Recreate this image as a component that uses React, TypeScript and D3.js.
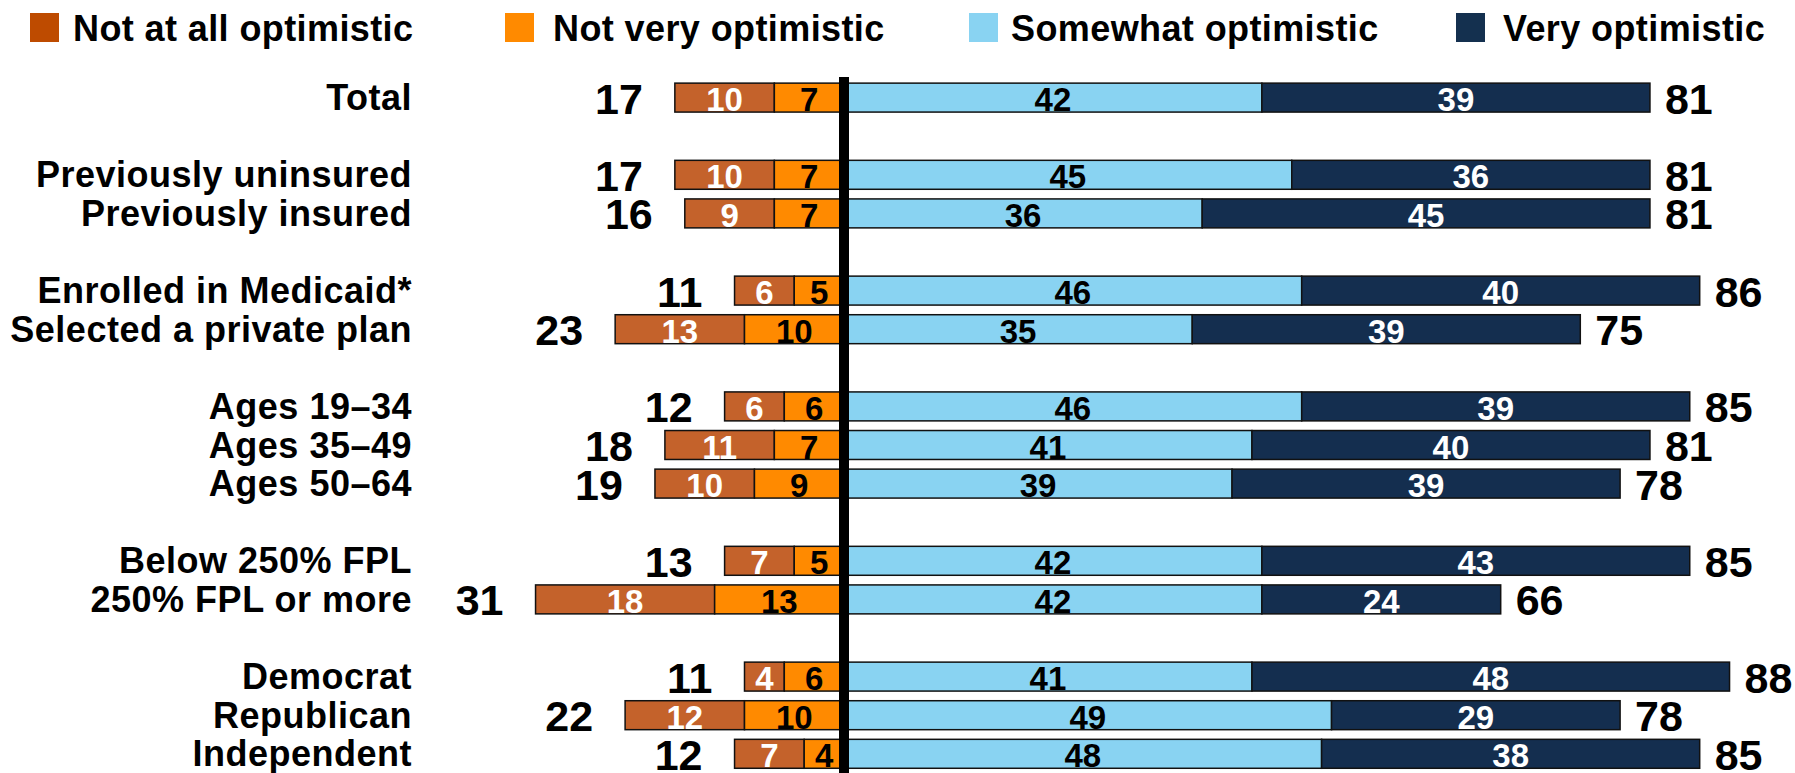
import React from "react";
import * as d3 from "d3";

const categories = [
  "Total",
  "Previously uninsured",
  "Previously insured",
  "Enrolled in Medicaid*",
  "Selected a private plan",
  "Ages 19–34",
  "Ages 35–49",
  "Ages 50–64",
  "Below 250% FPL",
  "250% FPL or more",
  "Democrat",
  "Republican",
  "Independent",
];
const groupOf = [0, 1, 1, 2, 2, 3, 3, 3, 4, 4, 5, 5, 5];
const notAtAll = [10, 10, 9, 6, 13, 6, 11, 10, 7, 18, 4, 12, 7];
const notVery = [7, 7, 7, 5, 10, 6, 7, 9, 5, 13, 6, 10, 4];
const somewhat = [42, 45, 36, 46, 35, 46, 41, 39, 42, 42, 41, 49, 48];
const very = [39, 36, 45, 40, 39, 39, 40, 39, 43, 24, 48, 29, 38];
const negTotal = [17, 17, 16, 11, 23, 12, 18, 19, 13, 31, 11, 22, 12];
const posTotal = [81, 81, 81, 86, 75, 85, 81, 78, 85, 66, 88, 78, 85];

const seriesNames = ["Not at all optimistic", "Not very optimistic", "Somewhat optimistic", "Very optimistic"];
const barColors = ["#C4622B", "#FF8A00", "#89D3F2", "#142E4F"];
const legendColors = ["#BE4B00", "#FF8A00", "#89D3F2", "#14304F"];
const labelColors = ["#FFFFFF", "#000000", "#000000", "#FFFFFF"];

const W = 1795;
const H = 773;
const FONT = "'Liberation Sans', Arial, Helvetica, sans-serif";

export default function App() {
  // row slots including blank rows between groups
  const slots: number[] = [];
  let slot = 0;
  categories.forEach((_, i) => {
    if (i > 0 && groupOf[i] !== groupOf[i - 1]) slot += 1;
    slots.push(slot);
    slot += 1;
  });
  const nSlots = slot;

  const x = d3.scaleLinear().domain([-31, 89]).range([535.55, 1729.55]);
  const y = d3
    .scaleBand<number>()
    .domain(d3.range(nSlots))
    .range([78.3, 78.3 + nSlots * 38.6])
    .paddingInner(0.25)
    .paddingOuter(0.125);
  const bh = y.bandwidth();

  const legendSquareX = [30, 505, 969, 1456];
  const legendTextX = [73, 553, 1011, 1503];

  return (
    <div style={{ position: "absolute", left: 0, top: 0 }}>
      <svg width={W} height={H} style={{ display: "block", background: "#fff" }}>
        {/* legend */}
        {seriesNames.map((n, k) => (
          <g key={n}>
            <rect x={legendSquareX[k]} y={13} width={29} height={29} fill={legendColors[k]} />
            <text
              x={legendTextX[k]}
              y={28}
              dominantBaseline="central"
              fontFamily={FONT}
              fontWeight="bold"
              fontSize={36}
              letterSpacing={0.4}
              fill="#000"
            >
              {n}
            </text>
          </g>
        ))}
        {categories.map((c, i) => {
          const yTop = y(slots[i]) as number;
          const cy = yTop + bh / 2;
          const segs = [
            { a: -(notAtAll[i] + notVery[i]), b: -notVery[i], v: notAtAll[i] },
            { a: -notVery[i], b: 0, v: notVery[i] },
            { a: 0, b: somewhat[i], v: somewhat[i] },
            { a: somewhat[i], b: somewhat[i] + very[i], v: very[i] },
          ];
          const leftEnd = x(segs[0].a);
          const rightEnd = x(segs[3].b);
          return (
            <g key={c}>
              <text
                x={412}
                y={cy}
                textAnchor="end"
                dominantBaseline="central"
                fontFamily={FONT}
                fontWeight="bold"
                fontSize={36}
                letterSpacing={0.5}
                fill="#000"
              >
                {c}
              </text>
              {segs.map((s, k) => (
                <rect
                  key={k}
                  x={x(s.a)}
                  y={yTop}
                  width={x(s.b) - x(s.a)}
                  height={bh}
                  fill={barColors[k]}
                  stroke="#111"
                  strokeWidth={1.5}
                />
              ))}
              {segs.map((s, k) => (
                <text
                  key={"t" + k}
                  x={(x(s.a) + x(s.b)) / 2}
                  y={cy + 2}
                  textAnchor="middle"
                  dominantBaseline="central"
                  fontFamily={FONT}
                  fontWeight="bold"
                  fontSize={33}
                  fill={labelColors[k]}
                >
                  {s.v}
                </text>
              ))}
              <text
                x={leftEnd - 32}
                y={cy + 1}
                textAnchor="end"
                dominantBaseline="central"
                fontFamily={FONT}
                fontWeight="bold"
                fontSize={43}
                fill="#000"
              >
                {negTotal[i]}
              </text>
              <text
                x={rightEnd + 15}
                y={cy + 1}
                textAnchor="start"
                dominantBaseline="central"
                fontFamily={FONT}
                fontWeight="bold"
                fontSize={43}
                fill="#000"
              >
                {posTotal[i]}
              </text>
            </g>
          );
        })}
        {/* center line */}
        <rect x={x(0) - 5} y={77} width={10} height={H - 77} fill="#000" />
      </svg>
    </div>
  );
}
